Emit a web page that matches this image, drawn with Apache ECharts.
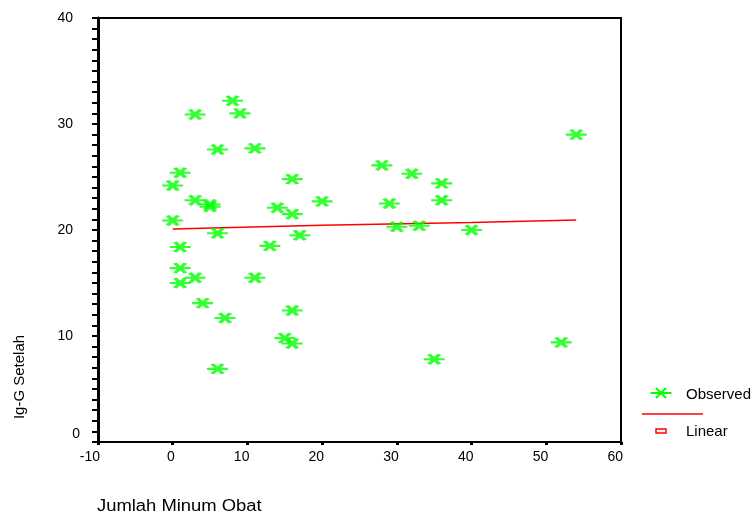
<!DOCTYPE html>
<html>
<head>
<meta charset="utf-8">
<script src="https://cdn.jsdelivr.net/npm/echarts@6/dist/echarts.min.js"></script>
<style>
  html, body { margin: 0; padding: 0; background: #fff; }
  #chart { width: 756px; height: 517px; }
</style>
</head>
<body>
<div id="chart"></div>
<script>
// observed points (Jumlah Minum Obat, Ig-G Setelah)
const obsX = [8, 9, 3, 6, 11, 1, 16, 0, 3, 5, 5, 14, 20, 16, 28, 32, 36, 36, 29, 30,
  33, 40, 54, 0, 6, 17, 13, 1, 1, 3, 1, 11, 4, 7, 16, 15, 16, 6, 35, 52];
const obsY = [32.2, 31.0, 30.9, 27.6, 27.7, 25.4, 24.8, 24.2, 22.8, 22.4, 22.2, 22.1, 22.7, 21.5, 26.1, 25.3, 24.4, 22.8, 22.5, 20.3,
  20.4, 20.0, 29.0, 20.9, 19.7, 19.5, 18.5, 18.4, 16.4, 15.5, 15.0, 15.5, 13.1, 11.7, 12.4, 9.8, 9.3, 6.9, 7.8, 9.4];

// linear fit line
const fitX = [0, 20, 40, 54];
const fitY = [20.1, 20.45, 20.7, 20.95];

const xTicks = [-10, 0, 10, 20, 30, 40, 50, 60];
const yTicks = [0, 10, 20, 30, 40];

const FONT = "Liberation Sans, Arial, sans-serif";
const starPath = "path://M0,5L20,5M5,0L15,10M5,10L15,0";
const GREEN = "#00ff00";

const chart = echarts.init(document.getElementById("chart"));

chart.setOption({
  animation: false,
  grid: {
    left: 98,
    right: 135,
    top: 18,
    bottom: 75,
    show: true,
    borderColor: "#000",
    borderWidth: 2,
  },
  xAxis: {
    type: "value",
    min: xTicks[0],
    max: xTicks[xTicks.length - 1],
    interval: 10,
    axisLine: { onZero: false, lineStyle: { color: "#000", width: 2 } },
    axisTick: { length: 3, lineStyle: { color: "#000", width: 3 } },
    axisLabel: {
      color: "#000",
      fontFamily: FONT,
      fontSize: 14,
      margin: 8,
      align: "right",
      padding: [0, -2, 0, 0],
    },
    splitLine: { show: false },
  },
  yAxis: {
    type: "value",
    min: yTicks[0],
    max: yTicks[yTicks.length - 1],
    interval: 10,
    axisLine: { onZero: false, lineStyle: { color: "#000", width: 3 } },
    axisTick: { length: 6, lineStyle: { color: "#000", width: 2 } },
    minorTick: { show: true, splitNumber: 10, length: 6, lineStyle: { color: "#000", width: 2 } },
    axisLabel: {
      color: "#000",
      fontFamily: FONT,
      fontSize: 14,
      margin: 18,
      formatter: (v) => (v === 0 ? "{z|0}" : "{n|" + v + "}"),
      rich: {
        z: { fontFamily: FONT, fontSize: 14, color: "#000", padding: [0, 0, 16, 0] },
        n: { fontFamily: FONT, fontSize: 14, color: "#000", padding: [0, 7, 0, 0] },
      },
    },
    splitLine: { show: false },
  },
  series: [
    {
      name: "Linear",
      type: "line",
      data: fitX.map((x, i) => [x, fitY[i]]),
      showSymbol: false,
      lineStyle: { color: "#ff0000", width: 1.5 },
      z: 2,
    },
    {
      name: "Observed",
      type: "scatter",
      data: obsX.map((x, i) => [x, obsY[i]]),
      symbol: starPath,
      symbolSize: [21, 10],
      itemStyle: { color: GREEN, borderColor: GREEN, borderWidth: 3 },
      z: 3,
    },
  ],
  graphic: [
    {
      type: "text",
      x: 20,
      y: 377,
      rotation: Math.PI / 2,
      style: {
        text: "Ig-G Setelah",
        font: "15px " + FONT,
        fill: "#000",
        align: "center",
        verticalAlign: "middle",
      },
    },
    {
      type: "text",
      x: 97,
      y: 507,
      style: {
        text: "Jumlah Minum Obat",
        font: "16px " + FONT,
        fill: "#000",
        verticalAlign: "middle",
      },
      scaleX: 1.15,
    },
    {
      type: "group",
      x: 661,
      y: 393,
      children: [
        { type: "line", shape: { x1: -10.5, y1: 0, x2: 10.5, y2: 0 }, style: { stroke: GREEN, lineWidth: 2 } },
        { type: "line", shape: { x1: -5, y1: -5, x2: 5, y2: 5 }, style: { stroke: GREEN, lineWidth: 2 } },
        { type: "line", shape: { x1: -5, y1: 5, x2: 5, y2: -5 }, style: { stroke: GREEN, lineWidth: 2 } },
      ],
    },
    {
      type: "text",
      x: 686,
      y: 395,
      style: { text: "Observed", font: "15px " + FONT, fill: "#000", verticalAlign: "middle" },
    },
    {
      type: "line",
      shape: { x1: 642, y1: 414, x2: 703, y2: 414 },
      style: { stroke: "#ff0000", lineWidth: 1.5 },
    },
    {
      type: "rect",
      shape: { x: 656, y: 429, width: 10, height: 4 },
      style: { stroke: "#ff0000", fill: "#fff", lineWidth: 1.5 },
    },
    {
      type: "text",
      x: 686,
      y: 432,
      style: { text: "Linear", font: "15px " + FONT, fill: "#000", verticalAlign: "middle" },
    },
  ],
});
</script>
</body>
</html>
